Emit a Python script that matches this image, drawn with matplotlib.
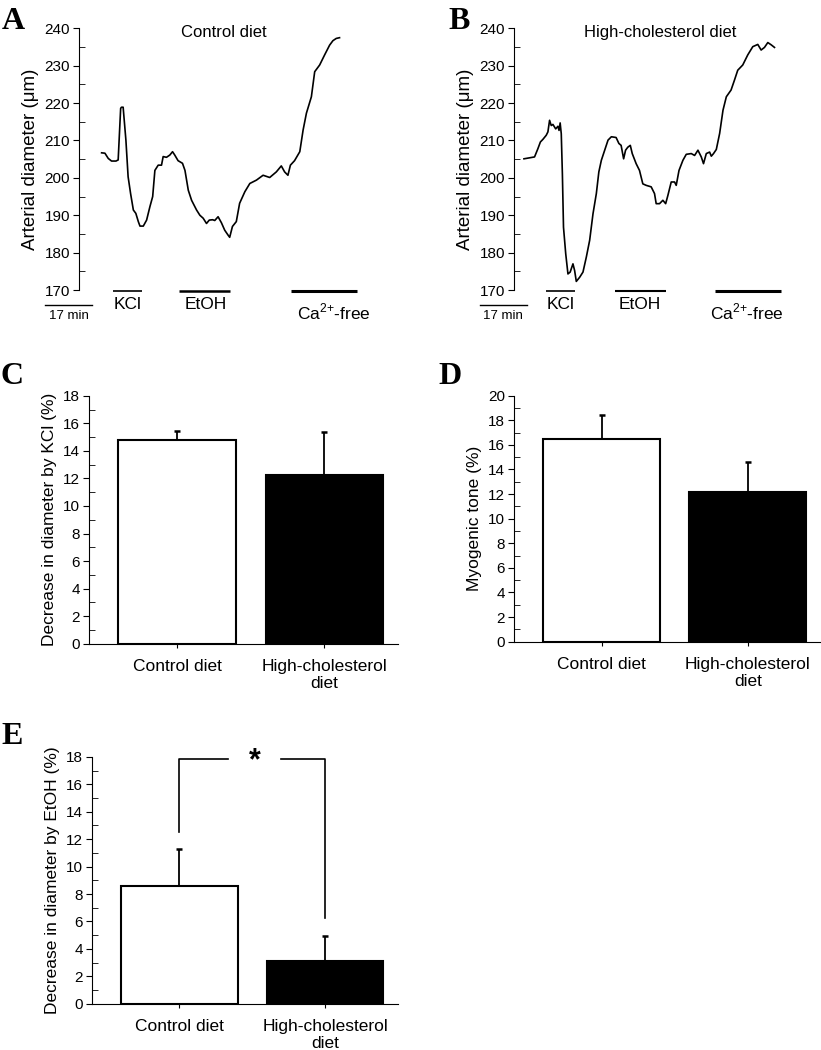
import matplotlib
matplotlib.use("Agg")
import matplotlib.pyplot as plt
from matplotlib.ticker import MultipleLocator

plt.rcParams['font.family'] = ['Liberation Sans', 'DejaVu Sans']
plt.rcParams['mathtext.fontset'] = 'custom'
plt.rcParams['mathtext.rm'] = 'Liberation Sans'

# ---- traces (time in min, diameter in um)
tA = [8.2, 9.4, 10.6, 11.8, 13.4, 14.2, 15.1, 15.4, 16.0, 17.0, 17.8, 18.7, 19.7, 20.6,
      21.5, 22.1, 23.3, 24.5, 25.7, 26.7, 27.5, 28.7, 29.9, 30.5, 31.7, 32.9, 33.9, 34.7,
      35.9, 37.5, 38.4, 39.6, 40.8, 42.6, 43.8, 45.0, 46.2, 47.2, 48.4, 49.2, 50.4, 51.6,
      52.8, 54.0, 54.6, 55.6, 57.0, 58.2, 60.1, 61.9, 64.3, 66.7, 69.1, 71.5, 73.3, 74.5,
      75.7, 76.6, 78.1, 80.0, 81.2, 82.4, 84.2, 85.4, 87.2, 89.0, 90.8, 92.0, 93.2, 94.4]
dA = [206.7, 206.6, 205.2, 204.5, 204.5, 204.8, 218.6, 218.9, 218.9, 210.1, 200.3, 195.8,
      191.4, 190.5, 188.3, 187.1, 187.1, 188.7, 192.3, 195.0, 202.0, 203.4, 203.4, 205.7,
      205.5, 206.1, 207.0, 206.1, 204.6, 203.9, 202.0, 196.7, 194.0, 191.4, 190.0, 189.2,
      187.8, 188.7, 188.8, 188.6, 189.6, 188.0, 186.0, 184.7, 184.1, 187.0, 188.3, 193.2,
      196.3, 198.5, 199.4, 200.7, 200.1, 201.6, 203.2, 201.6, 200.7, 203.4, 204.6, 207.0,
      212.8, 217.3, 221.7, 228.4, 230.2, 232.9, 235.5, 236.7, 237.3, 237.5]

tB = [3.6, 7.4, 8.6, 9.5, 10.4, 11.6, 12.2, 12.8, 13.4, 14.0, 15.0, 15.8, 16.2, 16.6, 17.0,
      17.4, 17.8, 18.6, 19.4, 20.2, 21.2, 21.8, 22.4, 23.6, 24.8, 26.0, 27.2, 28.4, 29.6,
      30.5, 31.4, 32.6, 33.8, 35.0, 36.7, 37.7, 38.5, 39.4, 40.1, 40.9, 41.8, 42.5, 43.9,
      45.1, 46.3, 47.5, 49.3, 50.5, 51.1, 52.3, 53.5, 54.5, 55.3, 56.5, 57.7, 58.3, 59.3,
      60.7, 61.9, 63.7, 64.9, 66.1, 67.3, 68.1, 69.1, 70.3, 70.9, 71.7, 72.7, 73.9, 75.1,
      76.3, 78.0, 79.2, 80.4, 82.2, 84.0, 85.8, 87.6, 88.8, 90.0, 91.2, 92.4, 93.6]
dB = [205.1, 205.6, 207.8, 209.6, 210.3, 211.4, 212.3, 215.4, 214.0, 214.3, 213.1, 213.8,
      212.7, 214.7, 211.8, 201.1, 186.8, 179.7, 174.3, 174.8, 177.0, 175.2, 172.3, 173.4,
      174.8, 178.8, 183.3, 190.4, 195.8, 201.6, 204.7, 207.4, 210.1, 211.0, 210.8, 209.2,
      208.7, 205.1, 207.4, 208.2, 208.7, 206.5, 203.8, 202.0, 198.4, 198.0, 197.6, 195.8,
      193.1, 193.1, 194.0, 193.1, 195.3, 198.9, 198.9, 198.0, 202.0, 204.7, 206.3, 206.5,
      206.0, 207.4, 205.6, 203.8, 206.5, 206.9, 205.8, 206.5, 207.6, 211.9, 218.1, 221.7,
      223.5, 226.1, 228.8, 230.2, 232.9, 235.1, 235.7, 234.2, 234.9, 236.2, 235.6, 234.9]

# treatment periods (start, end in min)
periodsA = [(12.2, 23.0), (36.2, 54.6), (76.7, 100.7)]
periodsB = [(11.4, 22.0), (36.4, 54.7), (72.1, 95.8)]
period_labels = ['KCl', 'EtOH', 'Ca$^{\\mathregular{2{+}}}$-free']

# ---- bar summaries
groups = ['Control diet', 'High-cholesterol\ndiet']
kcl_mean = [14.8, 12.25]
kcl_err = [0.65, 3.1]
tone_mean = [16.45, 12.15]
tone_err = [1.95, 2.45]
etoh_mean = [8.6, 3.15]
etoh_err = [2.65, 1.8]

fig = plt.figure(figsize=(8.21, 10.5), dpi=100)


def trace_panel(rect, t, d, periods, title, letter, lab_x, lab_widths):
    ax = fig.add_axes(rect)
    ax.plot(t, d, color='black', lw=1.2)
    ax.set_xlim(0, 105)
    ax.set_ylim(170, 240)
    for s in ['top', 'right', 'bottom']:
        ax.spines[s].set_visible(False)
    ax.set_xticks([])
    ax.yaxis.set_major_locator(MultipleLocator(10))
    ax.yaxis.set_minor_locator(MultipleLocator(5))
    ax.tick_params(axis='y', which='major', direction='out', length=4.5, labelsize=11, pad=2)
    ax.tick_params(axis='y', which='minor', direction='in', length=4)
    ax.set_ylabel('Arterial diameter (\u03bcm)', fontsize=13.5, labelpad=4)
    ax.text(0.5, 0.985, title, transform=ax.transAxes, ha='center', va='center', fontsize=12)
    for (s, e), lab, x, lw in zip(periods, period_labels, lab_x, lab_widths):
        ax.plot([s, e], [169.8, 169.8], color='black', lw=lw, clip_on=False, solid_capstyle='butt')
        yy = 166.0 if lab != period_labels[2] else 164.0
        ax.text(x, yy, lab, ha='center', va='center', fontsize=12.5)
    # time scale bar
    ax.plot([-12.3, 4.7], [166.0, 166.0], color='black', lw=1, clip_on=False)
    ax.text(-3.8, 163.0, '17 min', ha='center', va='center', fontsize=9.5)
    fig.text(rect[0] - (0.094 if letter == 'A' else 0.080), 0.993, letter, ha='left', va='top',
             fontsize=23, fontweight='bold', family='Liberation Serif')
    return ax


trace_panel([0.0962, 0.7238, 0.353, 0.2492], tA, dA, periodsA, 'Control diet', 'A',
            [17.6, 45.8, 92.4], [1.2, 1.8, 2.2])
trace_panel([0.626, 0.7238, 0.356, 0.2492], tB, dB, periodsB, 'High-cholesterol diet', 'B',
            [16.6, 45.1, 83.7], [1.2, 1.5, 2.2])


def bar_panel(rect, means, errs, ymax, ylabel, letter, letter_xy):
    ax = fig.add_axes(rect)
    x = [1, 2]
    ax.bar(x, means, width=0.8, color=['white', 'black'], edgecolor='black', lw=1.5, zorder=2)
    ax.errorbar(x, means, yerr=[[0, 0], errs], fmt='none', ecolor='black', elinewidth=1.3,
                capsize=2.5, capthick=1.8, zorder=1)
    ax.set_xlim(0.4, 2.5)
    ax.set_ylim(0, ymax)
    for s in ['top', 'right']:
        ax.spines[s].set_visible(False)
    ax.set_xticks(x)
    ax.set_xticklabels(groups, fontsize=12.5, linespacing=1.15)
    ax.yaxis.set_major_locator(MultipleLocator(2))
    ax.yaxis.set_minor_locator(MultipleLocator(1))
    ax.tick_params(axis='y', which='major', direction='out', length=4.5, labelsize=11, pad=2)
    ax.tick_params(axis='y', which='minor', direction='in', length=4)
    ax.tick_params(axis='x', direction='out', length=3, pad=8)
    ax.set_ylabel(ylabel, fontsize=12.5, labelpad=4)
    fig.text(letter_xy[0], letter_xy[1], letter, ha='left', va='top',
             fontsize=23, fontweight='bold', family='Liberation Serif')
    return ax


bar_panel([0.1084, 0.3869, 0.3764, 0.2362], kcl_mean, kcl_err, 18,
          'Decrease in diameter by KCl (%)', 'C', (0.001, 0.655))
bar_panel([0.626, 0.3889, 0.374, 0.2343], tone_mean, tone_err, 20,
          'Myogenic tone (%)', 'D', (0.534, 0.655))
axE = bar_panel([0.1121, 0.0441, 0.3727, 0.2350], etoh_mean, etoh_err, 18,
                'Decrease in diameter by EtOH (%)', 'E', (0.002, 0.312))

# significance bracket
axE.plot([1, 1, 1.33], [12.55, 17.83, 17.83], color='black', lw=1.2)
axE.plot([1.70, 2, 2], [17.83, 17.83, 6.27], color='black', lw=1.2)
axE.text(1.515, 17.7, '*', ha='center', va='center', fontsize=22, fontweight='bold')

fig.savefig('out.png', dpi=100)
